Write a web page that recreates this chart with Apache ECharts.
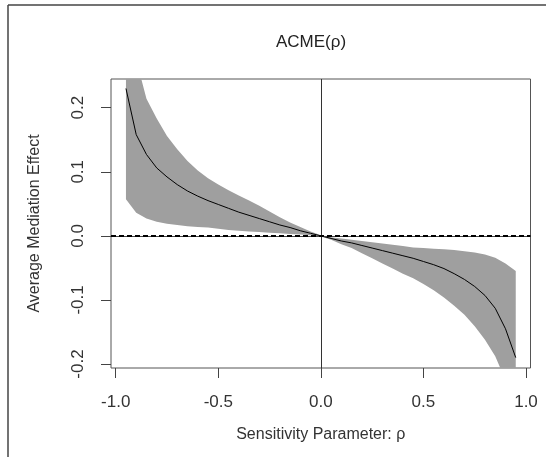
<!DOCTYPE html>
<html>
<head>
<meta charset="utf-8">
<script src="https://cdn.jsdelivr.net/npm/echarts@6/dist/echarts.min.js"></script>
<style>
html,body{margin:0;padding:0;background:#fff;}
#c{width:546px;height:457px;}
</style>
</head>
<body>
<div id="c"></div>
<script>
// Sensitivity parameter rho
const rho = [-0.95,-0.90,-0.85,-0.80,-0.75,-0.70,-0.65,-0.60,-0.55,-0.50,-0.45,-0.40,-0.35,-0.30,-0.25,-0.20,-0.15,-0.10,-0.05,
  0.00,0.05,0.10,0.15,0.20,0.25,0.30,0.35,0.40,0.45,0.50,0.55,0.60,0.65,0.70,0.75,0.80,0.85,0.90,0.95];
// Average mediation effect (point estimate)
const acme = [0.230,0.158,0.127,0.106,0.092,0.080,0.070,0.062,0.055,0.049,0.043,0.037,0.032,0.027,0.022,0.017,0.013,0.008,0.004,
  0.000,-0.004,-0.008,-0.011,-0.015,-0.019,-0.023,-0.027,-0.031,-0.035,-0.040,-0.045,-0.051,-0.059,-0.068,-0.079,-0.093,-0.113,-0.145,-0.190];
// Confidence band
const lower = [0.057,0.036,0.027,0.022,0.019,0.017,0.015,0.014,0.013,0.011,0.009,0.008,0.007,0.006,0.005,0.004,0.003,0.002,0.001,
  -0.001,-0.006,-0.013,-0.019,-0.027,-0.035,-0.043,-0.051,-0.059,-0.066,-0.075,-0.085,-0.096,-0.109,-0.123,-0.141,-0.162,-0.188,-0.225,-0.300];
const upper = [0.400,0.275,0.214,0.183,0.156,0.135,0.117,0.102,0.090,0.080,0.071,0.063,0.055,0.047,0.038,0.029,0.021,0.014,0.007,
  0.001,-0.002,-0.004,-0.006,-0.008,-0.010,-0.012,-0.014,-0.016,-0.018,-0.019,-0.020,-0.021,-0.022,-0.024,-0.026,-0.029,-0.034,-0.043,-0.055];
const xTicks = [-1.0,-0.5,0.0,0.5,1.0];
const yTicks = [-0.2,-0.1,0.0,0.1,0.2];
const d0 = 0.0;

const FONT = 'Liberation Sans, Arial, sans-serif';
const chart = echarts.init(document.getElementById('c'), null, {renderer:'canvas'});
const fmt = v => (Math.abs(v) < 1e-9 ? 0 : v).toFixed(1);

function renderBand(params, api) {
  if (params.dataIndex !== 0) return;
  const pts = [];
  for (let i = 0; i < rho.length; i++) pts.push(api.coord([rho[i], upper[i]]));
  for (let i = rho.length - 1; i >= 0; i--) pts.push(api.coord([rho[i], lower[i]]));
  const cs = params.coordSys;
  return {
    type:'polygon',
    shape:{points:pts},
    style:{fill:'#9f9f9f', stroke:null},
    clipPath:{type:'rect', shape:{x:cs.x, y:cs.y, width:cs.width, height:cs.height}}
  };
}

chart.setOption({
  animation:false,
  backgroundColor:'#fff',
  title:{text:'ACME(ρ)', left:271, top:29,
    textStyle:{fontFamily:FONT, fontSize:17, fontWeight:'normal', color:'#222'}},
  grid:{left:111, top:79, width:419.5, height:289, show:true, borderColor:'#555', borderWidth:1, backgroundColor:'transparent'},
  xAxis:{type:'value', min:-1.0229, max:1.0219,
    name:'Sensitivity Parameter: ρ', nameLocation:'middle', nameGap:59,
    nameTextStyle:{fontFamily:FONT, fontSize:16, color:'#333'},
    axisLine:{show:false, onZero:false},
    axisTick:{show:true, inside:false, length:10, customValues:xTicks, lineStyle:{color:'#444', width:1}},
    axisLabel:{customValues:xTicks, margin:26, formatter:fmt, fontFamily:FONT, fontSize:17, color:'#333'},
    splitLine:{show:false}},
  yAxis:{type:'value', min:-0.2062, max:0.2448,
    name:'Average Mediation Effect', nameLocation:'middle', nameGap:68, nameRotate:90,
    nameTextStyle:{fontFamily:FONT, fontSize:16, color:'#333'},
    axisLine:{show:false, onZero:false},
    axisTick:{show:true, inside:false, length:10, customValues:yTicks, lineStyle:{color:'#444', width:1}},
    axisLabel:{customValues:yTicks, rotate:90, margin:24, formatter:fmt, fontFamily:FONT, fontSize:17, color:'#333'},
    splitLine:{show:false}},
  graphic:[
    {type:'line', shape:{x1:8, y1:5, x2:546, y2:5}, style:{stroke:'#444', lineWidth:1.5}},
    {type:'line', shape:{x1:8, y1:5, x2:8, y2:457}, style:{stroke:'#444', lineWidth:1.5}}
  ],
  series:[
    {name:'band', type:'custom', renderItem:renderBand,
      data:rho.map((r,i)=>[r, lower[i], upper[i]]), z:1, silent:true},
    {name:'acme', type:'line', symbol:'none', data:rho.map((r,i)=>[r, acme[i]]),
      lineStyle:{color:'#000', width:1}, z:3, clip:true,
      markLine:{silent:true, symbol:'none', label:{show:false},
        data:[{xAxis:0, lineStyle:{color:'#333', width:1, type:'solid'}},
              {yAxis:0, lineStyle:{color:'#444', width:1, type:'solid'}},
              {yAxis:d0, lineStyle:{color:'#000', width:2, type:[5,3]}}]}}
  ]
});
</script>
</body>
</html>
